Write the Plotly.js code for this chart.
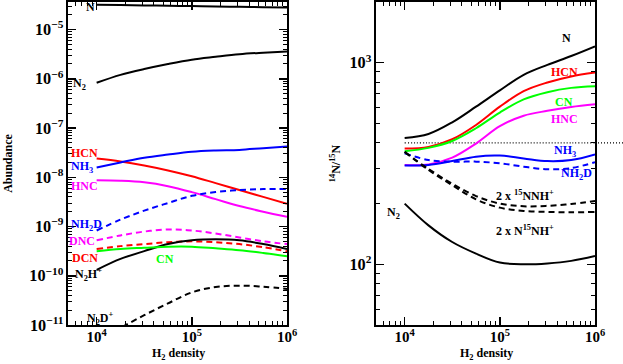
<!DOCTYPE html>
<html>
<head>
<meta charset="utf-8">
<script src="https://cdn.plot.ly/plotly-3.0.1.min.js"></script>
<style>
  html, body { margin: 0; padding: 0; background: white; }
  #plot { width: 623px; height: 364px; }
</style>
</head>
<body>
<div id="plot"></div>
<script>
// H2 density grid (cm^-3), shared by every model curve
const density = [ 1e4, 1.78e4, 3.16e4, 5.62e4, 1e5, 1.78e5, 3.16e5, 5.62e5, 1e6 ];

// left panel: abundances
const ab_N     = [ 3.2e-5, 3.15e-5, 3.1e-5, 3.05e-5, 3.0e-5, 2.95e-5, 2.9e-5, 2.85e-5, 2.8e-5 ];
const ab_N2    = [ 8.3e-7, 1.2e-6, 1.58e-6, 2.0e-6, 2.45e-6, 2.8e-6, 3.16e-6, 3.4e-6, 3.6e-6 ];
const ab_HCN   = [ 2.4e-8, 2.1e-8, 1.74e-8, 1.38e-8, 1.05e-8, 7.6e-9, 5.5e-9, 4.0e-9, 2.9e-9 ];
const ab_NH3   = [ 1.58e-8, 2.0e-8, 2.5e-8, 2.9e-8, 3.3e-8, 3.5e-8, 3.6e-8, 3.9e-8, 4.2e-8 ];
const ab_HNC   = [ 8.7e-9, 8.5e-9, 7.9e-9, 6.6e-9, 5.0e-9, 3.6e-9, 2.6e-9, 2.0e-9, 1.58e-9 ];
const ab_NH2D  = [ 8.3e-10, 1.38e-9, 2.1e-9, 3.0e-9, 4.2e-9, 5.0e-9, 5.5e-9, 5.75e-9, 5.75e-9 ];
const ab_DNC   = [ 5.25e-10, 6.6e-10, 7.9e-10, 8.7e-10, 8.3e-10, 7.2e-10, 6.0e-10, 5.0e-10, 4.4e-10 ];
const ab_DCN   = [ 3.5e-10, 4.0e-10, 4.4e-10, 4.8e-10, 5.0e-10, 4.8e-10, 4.4e-10, 3.8e-10, 3.16e-10 ];
const ab_CN    = [ 3.16e-10, 3.5e-10, 3.7e-10, 3.9e-10, 3.9e-10, 3.6e-10, 3.3e-10, 2.9e-10, 2.5e-10 ];
const ab_N2Hp  = [ 1.32e-10, 2.2e-10, 3.16e-10, 4.4e-10, 5.25e-10, 5.5e-10, 5.25e-10, 4.4e-10, 3.5e-10 ];
const ab_N2Dp  = [ 4.5e-12, 8.7e-12, 1.58e-11, 2.75e-11, 4.6e-11, 5.9e-11, 6.3e-11, 6.0e-11, 5.4e-11 ];

// right panel: 14N/15N ratios
const r_N      = [ 423, 443, 506, 605, 729, 871, 975, 1079, 1205 ];
const r_HCN    = [ 375, 382, 417, 491, 605, 723, 798, 855, 893 ];
const r_CN     = [ 364, 378, 409, 473, 566, 658, 714, 750, 764 ];
const r_HNC    = [ 311, 313, 338, 397, 484, 546, 577, 603, 622 ];
const r_NH3    = [ 309, 311, 325, 342, 346, 335, 325, 329, 351 ];
const r_NH2D   = [ 355, 329, 323, 323, 317, 305, 296, 300, 321 ];
const r_15NNH  = [ 361, 297, 251, 218, 200, 194, 195, 199, 206 ];
const r_N15NH  = [ 361, 294, 247, 210, 191, 184, 182, 181, 182 ];
const r_N2     = [ 200, 156, 129, 113, 102, 100, 101, 104, 110 ];
const r_ref    = 400;

const W       = 623;
const H       = 364;
const FONT    = 'Liberation Serif';
const RED     = '#ff0000';
const BLUE    = '#0000ff';
const MAGENTA = '#ff00ff';
const GREEN   = '#00ff00';
const DASH    = '6px,4px';

function make_line( y, color, dash, axes ) {
	return {
		x    : density,
		y    : y,
		mode : 'lines',
		type : 'scatter',
		line : { color: color, width: 2, dash: dash || 'solid', shape: 'spline', smoothing: 1 },
		xaxis: axes[ 0 ],
		yaxis: axes[ 1 ],
		hoverinfo: 'skip'
	};
}

// label placed by pixel position of its centre
function label( text, px, py, color, size ) {
	return {
		text     : '<b>' + text + '</b>',
		xref     : 'paper', yref: 'paper',
		x        : px / W, y: 1 - py / H,
		xanchor  : 'center', yanchor: 'middle',
		showarrow: false,
		font     : { family: FONT, size: size || 12, color: color || 'black' }
	};
}

// x axis title, sitting on the bottom edge of the picture
function x_title( px ) {
	return Object.assign( label( 'H<sub>2</sub> density', px, H - 1 ), { yanchor: 'bottom', borderpad: 0 } );
}

function make_axis( domain, range, anchor, extra ) {
	return Object.assign( {
		type      : 'log',
		domain    : domain,
		range     : range,
		anchor    : anchor,
		autorange : false,
		dtick     : 1,
		exponentformat: 'power',
		showgrid  : false,
		zeroline  : false,
		showline  : true,
		linecolor : 'black',
		linewidth : 2,
		mirror    : 'allticks',
		ticks     : 'inside',
		ticklen   : 8,
		tickwidth : 1.5,
		tickcolor : 'black',
		minor     : { ticks: 'inside', ticklen: 4, tickwidth: 1, tickcolor: 'black', showgrid: false },
		tickfont  : { family: FONT, size: 13, color: 'black', weight: 700 }
	}, extra );
}

const L = [ 'x', 'y' ];
const R = [ 'x2', 'y2' ];

let traces = [
	make_line( ab_N,    'black', null, L ),
	make_line( ab_N2,   'black', null, L ),
	make_line( ab_HCN,  RED,     null, L ),
	make_line( ab_NH3,  BLUE,    null, L ),
	make_line( ab_HNC,  MAGENTA, null, L ),
	make_line( ab_NH2D, BLUE,    DASH, L ),
	make_line( ab_DNC,  MAGENTA, DASH, L ),
	make_line( ab_DCN,  RED,     DASH, L ),
	make_line( ab_N2Hp, 'black', null, L ),
	make_line( ab_CN,   GREEN,   null, L ),
	make_line( ab_N2Dp, 'black', DASH, L ),

	make_line( density.map( () => r_ref ), 'black', '1px,2px', R ),
	make_line( r_N,     'black', null, R ),
	make_line( r_HCN,   RED,     null, R ),
	make_line( r_CN,    GREEN,   null, R ),
	make_line( r_HNC,   MAGENTA, null, R ),
	make_line( r_NH3,   BLUE,    null, R ),
	make_line( r_NH2D,  BLUE,    DASH, R ),
	make_line( r_15NNH, 'black', DASH, R ),
	make_line( r_N15NH, 'black', DASH, R ),
	make_line( r_N2,    'black', null, R )
];
traces[ 11 ].line.width = 1.2;

const dom_y = [ 39 / H, 362 / H ];
const xtick = { ticklabelstandoff: -2, tickfont: { family: FONT, size: 12, color: 'black', weight: 700 } };

const layout = {
	width        : W,
	height       : H,
	showlegend   : false,
	margin       : { l: 0, r: 0, t: 0, b: 0 },
	paper_bgcolor: 'white',
	plot_bgcolor : 'white',
	font         : { family: FONT, color: 'black' },
	xaxis : make_axis( [ 68 / W, 287 / W ], [ Math.log10( 5000 ), 6 ], 'y', xtick ),
	yaxis : make_axis( dom_y, [ -11, -4.44 ], 'x', {
		title: { text: '<b>Abundance</b>', font: { family: FONT, size: 12 }, standoff: 14 } } ),
	xaxis2: make_axis( [ 376 / W, 595 / W ], [ Math.log10( 5000 ), 6 ], 'y2', xtick ),
	yaxis2: make_axis( dom_y, [ Math.log10( 50 ), Math.log10( 2000 ) ], 'x2', {
		title: { text: '<b><sup>14</sup>N/<sup>15</sup>N</b>', font: { family: FONT, size: 12 }, standoff: 6 } } ),
	shapes: [ {
		type: 'line', xref: 'paper', yref: 'y2',
		x0  : 595 / W, x1: 1, y0: r_ref, y1: r_ref,
		line: { color: 'black', width: 1.2, dash: '1px,2px' }
	} ],
	annotations: [
		x_title( 178 ),
		x_title( 486 ),

		label( 'N',                              90,  7 ),
		label( 'N<sub>2</sub>',                  79,  84 ),
		label( 'HCN',                            84,  153, RED ),
		label( 'NH<sub>3</sub>',                 82,  167, BLUE ),
		label( 'HNC',                            84,  186, MAGENTA ),
		label( 'NH<sub>2</sub>D',                86,  225, BLUE ),
		label( 'DNC',                            82,  241, MAGENTA ),
		label( 'DCN',                            85,  258, RED ),
		label( 'N<sub>2</sub>H<sup>+</sup>',     88,  274 ),
		label( 'CN',                             165, 259, GREEN ),
		label( 'N<sub>2</sub>D<sup>+</sup>',     100, 318 ),

		label( 'N',                              566, 38 ),
		label( 'HCN',                            564, 72, RED ),
		label( 'CN',                             564, 102, GREEN ),
		label( 'HNC',                            564, 119, MAGENTA ),
		label( 'NH<sub>3</sub>',                 565, 151, BLUE ),
		label( 'NH<sub>2</sub>D',                576, 174, BLUE ),
		label( '2 x <sup>15</sup>NNH<sup>+</sup>', 525, 195 ),
		label( '2 x N<sup>15</sup>NH<sup>+</sup>', 525, 230 ),
		label( 'N<sub>2</sub>',                  393, 213 )
	]
};

Plotly.newPlot( 'plot', traces, layout, { displayModeBar: false, staticPlot: true } );
</script>
</body>
</html>
